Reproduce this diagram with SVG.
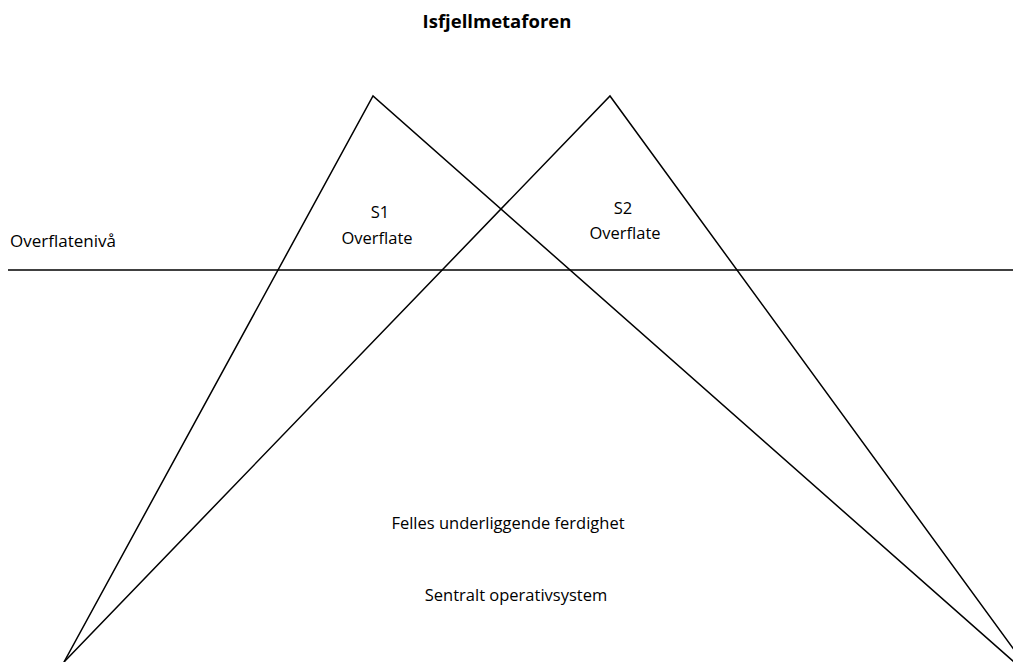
<svg xmlns="http://www.w3.org/2000/svg" width="1013" height="662" viewBox="0 0 1013 662">
<style>
.t{font-family:"Open Sans","Liberation Sans",sans-serif;font-size:16.5px;fill:#000;}
.c{text-anchor:middle;}
.b{font-weight:bold;font-size:18.5px;}
.ln{stroke:#000;stroke-width:1.5;fill:none;}
</style>
<rect width="1013" height="662" fill="#fff"/>
<g id="title"><text class="t c b" x="497" y="28">Isfjellmetaforen</text></g>
<g id="connectors">
<line class="ln" x1="8" y1="270" x2="1013" y2="270"/>
<polyline class="ln" points="64,662 373,96 1014,662"/>
<polyline class="ln" points="64,662 610,96 1023,662"/>
</g>
<g id="surface-label"><text class="t" x="10" y="247" style="font-size:17px">Overflatenivå</text></g>
<g id="s1"><text class="t c" x="380" y="218">S1</text><text class="t c" x="377" y="244">Overflate</text></g>
<g id="s2"><text class="t c" x="623" y="214">S2</text><text class="t c" x="625" y="239">Overflate</text></g>
<g id="felles"><text class="t c" x="508" y="529">Felles underliggende ferdighet</text></g>
<g id="sentralt"><text class="t c" x="516" y="601">Sentralt operativsystem</text></g>
</svg>
